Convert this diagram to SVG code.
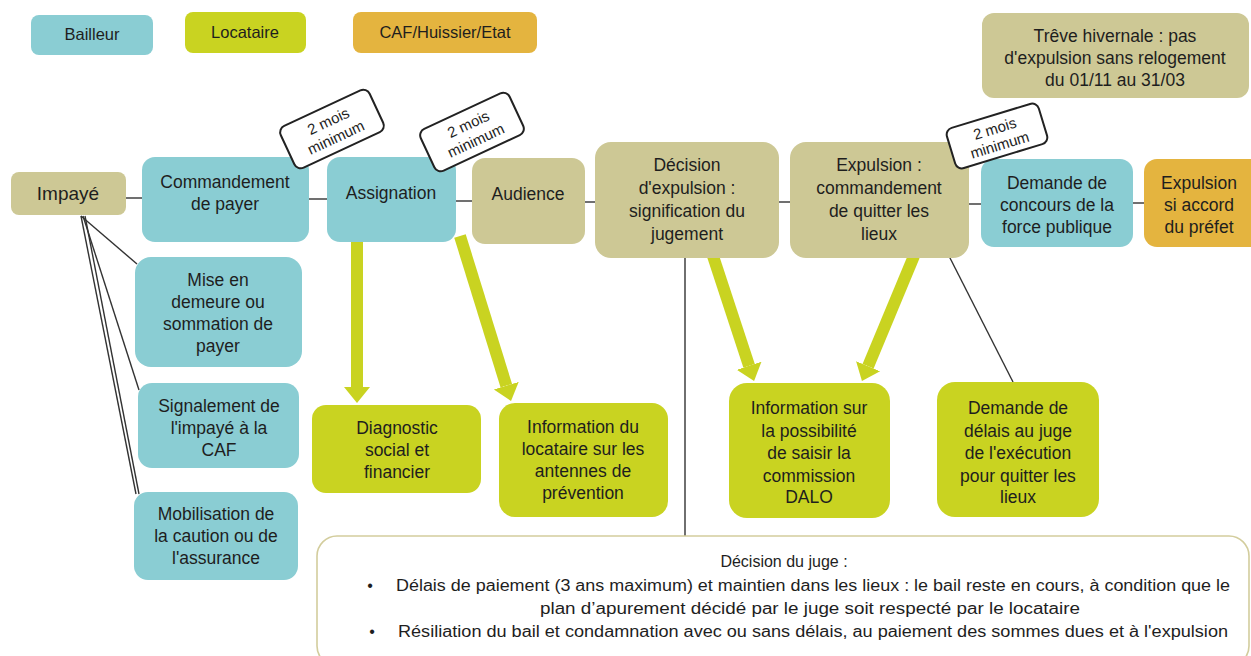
<svg xmlns="http://www.w3.org/2000/svg" width="1251" height="656" viewBox="0 0 1251 656">
<style>
text{font-family:"Liberation Sans",Arial,sans-serif;fill:#1e1e1e;text-anchor:middle;dominant-baseline:central}
.t{font-size:17.5px}
.lg{font-size:16.5px}
.tag{font-size:15px}
.bx{font-size:16px}
.teal{fill:#8acdd3}
.lime{fill:#c9d321}
.org{fill:#e4b43f}
.kh{fill:#cdc895}
.thin{stroke:#333;stroke-width:1.4;fill:none}
.big{stroke:#c9d321;stroke-width:12;fill:none}
.tagr{fill:#fff;stroke:#222;stroke-width:2}
</style>
<defs>
<marker id="ah" markerUnits="userSpaceOnUse" markerWidth="16" markerHeight="28" refX="0" refY="14" orient="auto" viewBox="0 0 16 28">
<path d="M0,1 L16,14 L0,27 z" fill="#c9d321"/>
</marker>
</defs>

<g id="connectors">
<line class="thin" x1="120" y1="198" x2="145" y2="198"/>
<line class="thin" x1="305" y1="199" x2="330" y2="199"/>
<line class="thin" x1="452" y1="201" x2="476" y2="201"/>
<line class="thin" x1="580" y1="202" x2="600" y2="202"/>
<line class="thin" x1="775" y1="202" x2="795" y2="202"/>
<line class="thin" x1="965" y1="204" x2="985" y2="204"/>
<line class="thin" x1="1128" y1="203" x2="1148" y2="203"/>
<line class="thin" x1="81" y1="216" x2="137" y2="264"/>
<line class="thin" x1="83" y1="216" x2="139" y2="390"/>
<line class="thin" x1="81" y1="216" x2="136" y2="494"/>
<line class="thin" x1="85" y1="216" x2="139" y2="494"/>
<line class="thin" x1="685" y1="256" x2="685" y2="536"/>
<line class="thin" x1="949" y1="256" x2="1013" y2="382"/>
<line class="big" x1="357" y1="240" x2="357" y2="387" marker-end="url(#ah)"/>
<line class="big" x1="460" y1="236" x2="506.3" y2="385.7" marker-end="url(#ah)"/>
<line class="big" x1="713" y1="256" x2="749.1" y2="365.8" marker-end="url(#ah)"/>
<line class="big" x1="914" y1="256" x2="868.1" y2="366.2" marker-end="url(#ah)"/>
</g>

<g id="legend-bailleur"><rect class="teal" x="31" y="15" width="122" height="40" rx="8"/><text class="lg" x="92" y="34">Bailleur</text></g>
<g id="legend-locataire"><rect class="lime" x="185" y="12" width="121" height="41" rx="8"/><text class="lg" x="245" y="32">Locataire</text></g>
<g id="legend-caf"><rect class="org" x="353" y="12" width="184" height="41" rx="8"/><text class="lg" x="445" y="32">CAF/Huissier/Etat</text></g>

<g id="treve"><rect class="kh" x="982" y="13" width="267" height="85" rx="12"/>
<text class="t" x="1115" y="36">Trêve hivernale : pas</text>
<text class="t" x="1115" y="58">d'expulsion sans relogement</text>
<text class="t" x="1115" y="80">du 01/11 au 31/03</text></g>

<g id="impaye"><rect class="kh" x="11" y="172" width="115" height="43" rx="8"/><text x="68" y="193" style="font-size:19px">Impayé</text></g>
<g id="commandement"><rect class="teal" x="142" y="157" width="167" height="85" rx="13"/>
<text class="t" x="225" y="182">Commandement</text><text class="t" x="225" y="204">de payer</text></g>
<g id="assignation"><rect class="teal" x="327" y="157" width="129" height="85" rx="13"/>
<text class="t" x="391" y="193">Assignation</text></g>
<g id="audience"><rect class="kh" x="472" y="158" width="113" height="86" rx="13"/>
<text class="t" x="528" y="194">Audience</text></g>
<g id="decision"><rect class="kh" x="595" y="142" width="184" height="116" rx="16"/>
<text class="t" x="687" y="165">Décision</text><text class="t" x="687" y="188">d'expulsion :</text>
<text class="t" x="687" y="211">signification du</text><text class="t" x="687" y="234">jugement</text></g>
<g id="expulsion-cmd"><rect class="kh" x="790" y="142" width="179" height="116" rx="16"/>
<text class="t" x="879" y="165">Expulsion :</text><text class="t" x="879" y="188">commandement</text>
<text class="t" x="879" y="211">de quitter les</text><text class="t" x="879" y="234">lieux</text></g>
<g id="concours"><rect class="teal" x="981" y="159" width="152" height="88" rx="13"/>
<text class="t" x="1057" y="183">Demande de</text><text class="t" x="1057" y="205">concours de la</text><text class="t" x="1057" y="227">force publique</text></g>
<g id="expulsion-final"><rect class="org" x="1144" y="159" width="120" height="88" rx="13"/>
<text class="t" x="1199" y="183">Expulsion</text><text class="t" x="1199" y="205">si accord</text><text class="t" x="1199" y="227">du préfet</text></g>

<g id="tag1" transform="translate(332,129) rotate(-25)"><rect class="tagr" x="-49" y="-23" width="98" height="46" rx="7"/>
<text class="tag" x="0" y="-9">2 mois</text><text class="tag" x="0" y="9">minimum</text></g>
<g id="tag2" transform="translate(472,132) rotate(-25)"><rect class="tagr" x="-49" y="-23" width="98" height="46" rx="7"/>
<text class="tag" x="0" y="-9">2 mois</text><text class="tag" x="0" y="9">minimum</text></g>
<g id="tag3" transform="translate(997,136) rotate(-17)"><rect class="tagr" x="-48" y="-21" width="96" height="42" rx="7"/>
<text class="tag" x="0" y="-8">2 mois</text><text class="tag" x="0" y="9">minimum</text></g>

<g id="mise-en-demeure"><rect class="teal" x="135" y="257" width="167" height="110" rx="16"/>
<text class="t" x="218" y="280">Mise en</text><text class="t" x="218" y="302">demeure ou</text>
<text class="t" x="218" y="324">sommation de</text><text class="t" x="218" y="346">payer</text></g>
<g id="signalement"><rect class="teal" x="138" y="383" width="161" height="85" rx="14"/>
<text class="t" x="219" y="406">Signalement de</text><text class="t" x="219" y="428">l'impayé à la</text><text class="t" x="219" y="450">CAF</text></g>
<g id="mobilisation"><rect class="teal" x="134" y="492" width="164" height="88" rx="14"/>
<text class="t" x="216" y="514">Mobilisation de</text><text class="t" x="216" y="536">la caution ou de</text><text class="t" x="216" y="558">l'assurance</text></g>

<g id="diagnostic"><rect class="lime" x="312" y="405" width="169" height="88" rx="14"/>
<text class="t" x="397" y="428">Diagnostic</text><text class="t" x="397" y="450">social et</text><text class="t" x="397" y="472">financier</text></g>
<g id="info-locataire"><rect class="lime" x="499" y="403" width="169" height="114" rx="16"/>
<text class="t" x="583" y="427">Information du</text><text class="t" x="583" y="449">locataire sur les</text>
<text class="t" x="583" y="471">antennes de</text><text class="t" x="583" y="493">prévention</text></g>
<g id="info-dalo"><rect class="lime" x="729" y="383" width="161" height="135" rx="18"/>
<text class="t" x="809" y="408">Information sur</text><text class="t" x="809" y="431">la possibilité</text>
<text class="t" x="809" y="453">de saisir la</text><text class="t" x="809" y="476">commission</text><text class="t" x="809" y="497">DALO</text></g>
<g id="demande-delais"><rect class="lime" x="937" y="382" width="162" height="135" rx="18"/>
<text class="t" x="1018" y="408">Demande de</text><text class="t" x="1018" y="431">délais au juge</text>
<text class="t" x="1018" y="453">de l'exécution</text><text class="t" x="1018" y="476">pour quitter les</text><text class="t" x="1018" y="497">lieux</text></g>

<g id="decision-juge"><rect x="317" y="536" width="932" height="130" rx="20" fill="#fff" stroke="#d3cd9d" stroke-width="1.6"/>
<text class="bx" x="784" y="561">Décision du juge :</text>
<text class="bx" x="370" y="585">•</text>
<text class="bx" x="813" y="585" textLength="834" lengthAdjust="spacingAndGlyphs">Délais de paiement (3 ans maximum) et maintien dans les lieux : le bail reste en cours, à condition que le</text>
<text class="bx" x="810" y="608" textLength="540" lengthAdjust="spacingAndGlyphs">plan d’apurement décidé par le juge soit respecté par le locataire</text>
<text class="bx" x="372" y="631">•</text>
<text class="bx" x="813" y="631" textLength="830" lengthAdjust="spacingAndGlyphs">Résiliation du bail et condamnation avec ou sans délais, au paiement des sommes dues et à l'expulsion</text></g>
</svg>
